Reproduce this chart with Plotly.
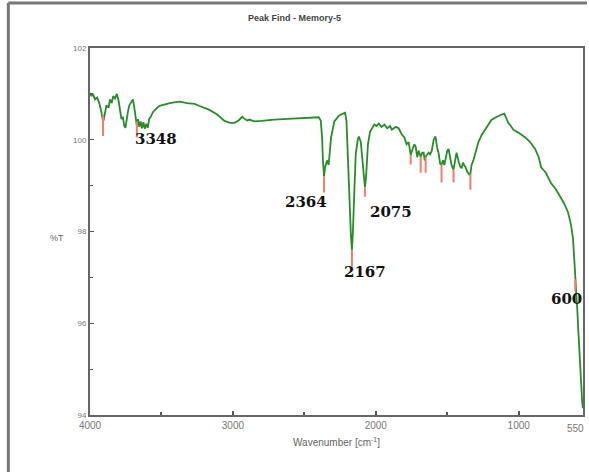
import plotly.graph_objects as go

# Spectrum (wavenumber cm-1, %T)
wavenumber = [4000, 3990, 3980, 3965, 3950, 3935, 3920, 3912, 3905, 3895, 3885, 3870, 3860, 3848,
              3838, 3825, 3812, 3800, 3790, 3780, 3770, 3760, 3752, 3745, 3735, 3725, 3712, 3700,
              3690, 3680, 3672, 3664, 3655, 3645, 3636, 3626, 3616, 3606, 3596, 3586, 3575, 3560,
              3545, 3530, 3512, 3480, 3442, 3400, 3373, 3320,
              3268, 3220, 3164, 3110, 3059, 3020, 2989, 2960, 2935, 2920, 2900, 2885, 2850, 2800,
              2711, 2585, 2467, 2400, 2385, 2376, 2369, 2362, 2355, 2341, 2330, 2313, 2290, 2279,
              2260, 2237, 2215, 2205, 2195, 2185, 2174, 2167, 2160, 2150, 2140, 2125, 2118, 2105,
              2095, 2085, 2076, 2068, 2055, 2040, 2028, 2010, 1995, 1979, 1960, 1940, 1920, 1900,
              1888, 1860, 1840, 1819, 1800, 1785, 1770, 1760, 1756, 1740, 1730, 1721, 1710, 1700,
              1686, 1675, 1665, 1658, 1651, 1640, 1630, 1620, 1609, 1595, 1582, 1570, 1561, 1550,
              1540, 1530, 1520, 1512, 1500, 1491, 1480, 1470, 1456, 1445, 1435, 1420, 1410, 1400,
              1390, 1380, 1372, 1360, 1345, 1338, 1330, 1317, 1300, 1282, 1260, 1233, 1210, 1191,
              1165, 1143, 1120, 1101, 1090, 1073, 1055, 1038, 1000, 954, 920, 885, 860, 843,
              810, 773, 740, 703, 680, 655, 634, 620, 610, 604, 598, 590, 582, 575,
              568, 562, 556, 551]
transmittance = [101.02, 100.95, 101.00, 100.88, 100.92, 100.80, 100.60, 100.45, 100.42, 100.62, 100.75, 100.70, 100.88, 100.80,
                 100.95, 100.90, 101.00, 100.85, 100.60, 100.45, 100.50, 100.30, 100.26, 100.42, 100.60, 100.75, 100.82, 100.88,
                 100.70, 100.45, 100.30, 100.45, 100.28, 100.40, 100.25, 100.38, 100.24, 100.35, 100.26, 100.45, 100.50, 100.60,
                 100.66, 100.70, 100.74, 100.77, 100.80, 100.82, 100.83, 100.80,
                 100.78, 100.72, 100.65, 100.55, 100.41, 100.37, 100.37, 100.42, 100.50, 100.46, 100.42, 100.44, 100.40, 100.41,
                 100.44, 100.46, 100.48, 100.49, 100.42, 100.05, 99.50, 99.20, 99.40, 99.55, 99.45, 100.05, 100.40, 100.45,
                 100.52, 100.56, 100.59, 100.40, 99.60, 98.60, 97.90, 97.60, 98.00, 98.90, 99.70, 100.02, 100.07, 99.95,
                 99.60, 99.10, 98.96, 99.20, 99.90, 100.18, 100.25, 100.33, 100.30, 100.35, 100.28, 100.33, 100.25, 100.30,
                 100.22, 100.28, 100.25, 100.12, 100.05, 99.90, 99.95, 99.72, 99.67, 99.82, 99.90, 99.85, 99.62, 99.76,
                 99.63, 99.72, 99.72, 99.55, 99.63, 99.68, 99.72, 99.68, 99.75, 100.00, 100.07, 99.82, 99.72, 99.48,
                 99.46, 99.55, 99.45, 99.58, 99.76, 99.80, 99.62, 99.45, 99.35, 99.55, 99.72, 99.52, 99.42, 99.38,
                 99.50, 99.44, 99.40, 99.30, 99.24, 99.26, 99.45, 99.55, 99.75, 99.95, 100.10, 100.24, 100.33, 100.43,
                 100.48, 100.52, 100.55, 100.57, 100.50, 100.37, 100.30, 100.22, 100.15, 100.05, 99.95, 99.80, 99.62, 99.40,
                 99.28, 99.05, 98.92, 98.72, 98.60, 98.42, 98.15, 97.85, 97.40, 96.96, 96.70, 96.30, 95.80, 95.30,
                 94.90, 94.55, 94.30, 94.15]

# Peak-find markers
peak_wn = [3909, 3672, 2362, 2167, 2076, 1756, 1686, 1651, 1540, 1456, 1338, 604]
peak_top = [100.55, 100.40, 99.20, 97.60, 98.96, 99.67, 99.63, 99.63, 99.46, 99.35, 99.26, 96.96]
peak_bottom = [100.08, 100.05, 98.85, 97.24, 98.76, 99.46, 99.28, 99.28, 99.07, 99.07, 98.91, 96.70]

# Peak labels (text and anchor in data units)
label_text = ["3348", "2364", "2075", "2167", "600"]
label_wn = [3540, 2488, 1895, 2076, 663]
label_t = [100.02, 98.65, 98.43, 97.11, 96.52]

x_ticks = [4000, 3000, 2000, 1000]
x_tick_text = ["4000", "3000", "2000", "1000"]
y_ticks = [94, 96, 98, 100, 102]

mx, my = [], []
for w, a, b in zip(peak_wn, peak_top, peak_bottom):
    mx += [w, w, None]
    my += [a, b, None]

fig = go.Figure()
fig.add_trace(go.Scatter(x=wavenumber, y=transmittance, mode="lines",
                         line=dict(color="rgb(40,140,40)", width=1.8), hoverinfo="skip"))
fig.add_trace(go.Scatter(x=mx, y=my, mode="lines",
                         line=dict(color="rgb(240,125,110)", width=2), hoverinfo="skip"))

for t, x, y in zip(label_text, label_wn, label_t):
    fig.add_annotation(x=x, y=y, text="<b>" + t + "</b>", showarrow=False, xref="x", yref="y",
                       font=dict(family="DejaVu Serif", size=15, color="#111"),
                       xanchor="center", yanchor="middle")

# "550" end label at the right edge
fig.add_annotation(x=(588 - 90) / 495, y=0, xref="paper", yref="paper", yshift=-13, text="550",
                   showarrow=False, font=dict(family="Liberation Sans", size=10, color="#777"),
                   xanchor="right", yanchor="middle")

fig.add_annotation(x=(295 - 90) / 495, y=(415 - 18) / 367, xref="paper", yref="paper",
                   text="<b>Peak Find - Memory-5</b>",
                   showarrow=False, font=dict(family="Liberation Sans", size=9, color="#444"),
                   xanchor="center", yanchor="middle")
fig.add_annotation(x=(57 - 90) / 495, y=(415 - 238) / 367, xref="paper", yref="paper", text="%T",
                   showarrow=False, font=dict(family="Liberation Sans", size=9, color="#666"),
                   xanchor="center", yanchor="middle")
fig.add_annotation(x=(338 - 90) / 495, y=(415 - 442) / 367, xref="paper", yref="paper",
                   text="Wavenumber [cm<sup>-1</sup>]",
                   showarrow=False, font=dict(family="Liberation Sans", size=10, color="#666"),
                   xanchor="center", yanchor="middle")

# outer frame (left and top edges)
fig.add_shape(type="line", xref="paper", yref="paper", x0=(8 - 90) / 495, x1=(589 - 90) / 495,
              y0=(415 - 3) / 367, y1=(415 - 3) / 367, line=dict(color="#777", width=3))
fig.add_shape(type="line", xref="paper", yref="paper", x0=(8 - 90) / 495, x1=(8 - 90) / 495,
              y0=(415 - 3) / 367, y1=(415 - 472) / 367, line=dict(color="#777", width=3))

fig.update_xaxes(range=[4000, 550], tickvals=x_ticks, ticktext=x_tick_text,
                 ticks="inside", ticklen=4, tickcolor="#555", tickwidth=2,
                 minor=dict(dtick=500, tick0=0, ticks="inside", ticklen=3, tickcolor="#555", tickwidth=2),
                 showline=True, linecolor="#666", linewidth=2, mirror=True,
                 showgrid=False, zeroline=False,
                 tickfont=dict(family="Liberation Sans", size=10, color="#777"))
fig.update_yaxes(range=[94, 102], tickvals=y_ticks,
                 ticks="inside", ticklen=4, tickcolor="#555", tickwidth=1,
                 minor=dict(dtick=1, tick0=0, ticks="inside", ticklen=3, tickcolor="#555"),
                 showline=True, linecolor="#666", linewidth=2, mirror=True,
                 showgrid=False, zeroline=False,
                 tickfont=dict(family="Liberation Sans", size=8, color="#777"))

fig.update_layout(width=589, height=472, showlegend=False,
                  margin=dict(l=90, r=4, t=48, b=57),
                  paper_bgcolor="white", plot_bgcolor="white")

fig.write_html("out.html")
